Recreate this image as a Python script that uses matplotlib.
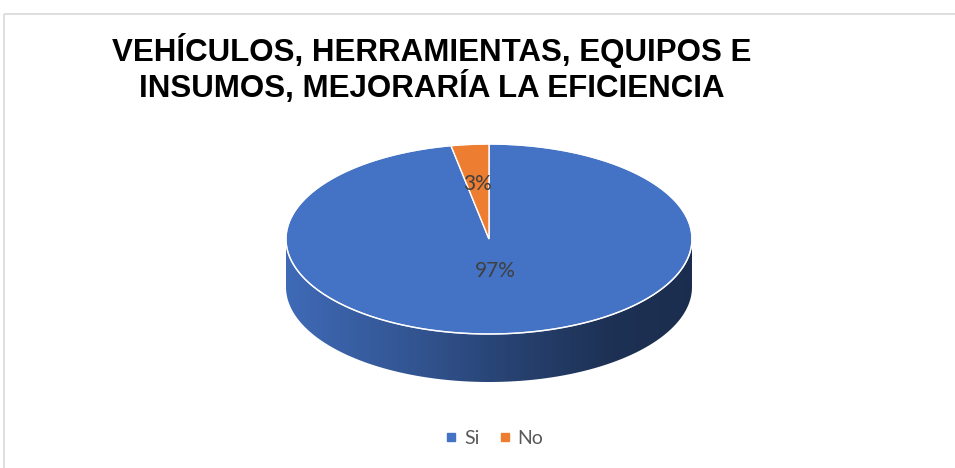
import numpy as np
import matplotlib.pyplot as plt
from matplotlib.patches import Polygon, Rectangle
from matplotlib.lines import Line2D
from matplotlib.colors import LinearSegmentedColormap, to_rgb

# data
labels = ["Si", "No"]
values = [97, 3]
colors = ["#4472C4", "#ED7D31"]
title_lines = ["VEHÍCULOS, HERRAMIENTAS, EQUIPOS E", "INSUMOS, MEJORARÍA LA EFICIENCIA"]
label_dist = [0.34, 0.58]  # where the % label sits, fraction of radius

W, H = 955, 468
fig = plt.figure(figsize=(W / 100, H / 100), dpi=100)
ax = fig.add_axes([0, 0, 1, 1])
ax.set_xlim(0, W)
ax.set_ylim(H, 0)
ax.axis("off")

# pie geometry in pixels (3D tilted pie)
cx, cy, rx, ry, depth = 489, 239, 203, 95, 48


def ell(theta, dy=0.0):
    t = np.radians(theta)
    return cx + rx * np.cos(t), cy - ry * np.sin(t) + dy


# chart frame
ax.add_patch(Rectangle((4, 14), W + 10, H + 10, fill=False, edgecolor="#d9d9d9", lw=1.2))

fracs = np.array(values, dtype=float) / sum(values)
spans = []
start = 90.0
for f in fracs:
    end = start - f * 360
    spans.append((end, start))
    start = end

# side walls (front half only)
for (lo, hi), col in zip(spans, colors):
    base = np.array(to_rgb(col))
    cmap = LinearSegmentedColormap.from_list(
        "side", [(0, base * 0.93), (0.3, base * 0.75), (0.55, base * 0.58),
                 (0.8, base * 0.43), (1, base * 0.40)])
    for k in range(-2, 2):
        a, b = max(lo, 180 + 360 * k), min(hi, 360 + 360 * k)
        if a >= b:
            continue
        th = np.linspace(a, b, 200)
        tx, ty = ell(th)
        bx, by = ell(th[::-1], depth)
        poly = Polygon(np.column_stack([np.r_[tx, bx], np.r_[ty, by]]),
                       closed=True, facecolor="none", edgecolor="none")
        ax.add_patch(poly)
        grad = np.linspace(0, 1, 256)[None, :]
        im = ax.imshow(grad, cmap=cmap, aspect="auto",
                       extent=(cx - rx, cx + rx, cy + ry + depth, cy - 5),
                       interpolation="bilinear")
        im.set_clip_path(poly)

# top face
for (lo, hi), col in zip(spans, colors):
    th = np.linspace(lo, hi, 300)
    x, y = ell(th)
    pts = np.column_stack([np.r_[cx, x], np.r_[cy, y]])
    ax.add_patch(Polygon(pts, closed=True, facecolor=col, edgecolor="white", lw=1.0))

th = np.linspace(0, 360, 400)
ax.plot(*ell(th), color="white", lw=1.0, alpha=0.8)

# percentage labels
for (lo, hi), f, d in zip(spans, fracs, label_dist):
    mid = np.radians((lo + hi) / 2)
    ax.text(cx + d * rx * np.cos(mid), cy - d * ry * np.sin(mid), f"{f:.0%}",
            ha="center", va="center", fontsize=15, color="#404040", family="Lato")

# title
for i, line in enumerate(title_lines):
    ax.text(432, 51 + 36 * i, line, ha="center", va="center", fontsize=22.5,
            fontweight="bold", family="Liberation Sans", color="black")

handles = [Line2D([], [], marker="s", linestyle="none", markersize=5.5,
                  markerfacecolor=c, markeredgecolor=c) for c in colors]
fig.legend(handles, labels, loc="center", bbox_to_anchor=(0.517, 1 - 438 / H),
           ncol=2, frameon=False, handlelength=0.7, handletextpad=0.3,
           columnspacing=0.95, prop={"family": "Lato", "size": 14},
           labelcolor="#595959")

fig.savefig("out.png", dpi=100)
